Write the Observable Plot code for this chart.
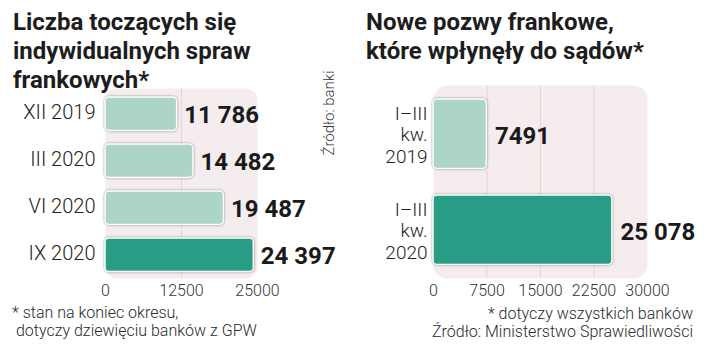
<!DOCTYPE html>
<html>
<head>
<meta charset="utf-8">
<script src="https://cdn.jsdelivr.net/npm/d3@7"></script>
<script src="https://cdn.jsdelivr.net/npm/@observablehq/plot@0.6"></script>
<style>
  html, body { margin: 0; padding: 0; background: #fff; }
  body { width: 720px; height: 359px; position: relative; overflow: hidden; font-family: Roboto, "Liberation Sans", sans-serif; color: #1a1a1a; }
  .panel { position: absolute; top: 0; width: 360px; height: 359px; }
  .title { position: absolute; font-family: Roboto, "Liberation Sans", sans-serif; font-weight: 700; font-size: 24px; line-height: 29px; color: #1d1d1d; }
  .note { position: absolute; font-family: Roboto, "Liberation Sans", sans-serif; font-weight: 300; font-size: 16px; line-height: 18px; color: #2a2a2a; }
  .chart { position: absolute; left: 0; top: 0; }
  .bars rect { filter: drop-shadow(0 0 1px rgba(0,0,0,0.45)); }
  .vsrc { position: absolute; font-family: Roboto, "Liberation Sans", sans-serif; font-weight: 300; font-size: 15px; color: #333; transform: rotate(-90deg); transform-origin: center; white-space: nowrap; }
</style>
</head>
<body>
<div class="panel" id="left">
  <div class="title" style="left:13px; top:8px;">Liczba toczących się<br>indywidualnych spraw<br>frankowych*</div>
  <div class="chart" id="chartL"></div>
  <div class="vsrc" style="left:284px; top:104px; width:90px; text-align:center;">Źródło: banki</div>
  <div class="note" style="left:12px; top:304px;">* stan na koniec okresu,<br>&nbsp;dotyczy dziewięciu banków z GPW</div>
</div>
<div class="panel" id="right" style="left:360px;">
  <div class="title" style="left:6px; top:8px;">Nowe pozwy frankowe,<br>które wpłynęły do sądów*</div>
  <div class="chart" id="chartR"></div>
  <div class="note" style="right:27px; top:305px; text-align:right;">* dotyczy wszystkich banków<br>Źródło: Ministerstwo Sprawiedliwości</div>
</div>
<script>
// Left chart data
const leftCategories = ["XII 2019", "III 2020", "VI 2020", "IX 2020"];
const leftValues = [11786, 14482, 19487, 24397];
const leftTicks = [0, 12500, 25000];

// Right chart data
const rightCategories = ["I–III\nkw.\n2019", "I–III\nkw.\n2020"];
const rightValues = [7491, 25078];
const rightTicks = [0, 7500, 15000, 22500, 30000];

const LIGHT = "#acd5c7";
const DARK = "#299c86";
const BG = "#f5eced";
const GRID = "#e2d6d6";

function fmt(v) {
  if (v < 10000) return String(v);
  return d3.format(",")(v).replace(/,/g, " ");
}

const leftData = leftCategories.map((c, i) => ({cat: c, value: leftValues[i], last: i === leftCategories.length - 1}));
const rightData = rightCategories.map((c, i) => ({cat: c, value: rightValues[i], last: i === rightCategories.length - 1}));

const FONT = "Roboto, 'Liberation Sans', sans-serif";

const left = Plot.plot({
  width: 360,
  height: 300,
  marginLeft: 105,
  marginRight: 103,
  marginTop: 88,
  marginBottom: 22,
  style: {fontFamily: FONT, background: "transparent", overflow: "visible"},
  x: {domain: [0, 25000], ticks: leftTicks, tickSize: 0, tickPadding: 6, label: null, tickFormat: d => String(d)},
  y: {domain: leftCategories, padding: 0, tickSize: 0, tickPadding: 10, label: null},
  marks: [
    Plot.frame({fill: BG, stroke: null, rx: 12}),
    Plot.gridX(leftTicks.slice(1, -1), {stroke: GRID, strokeOpacity: 1, strokeWidth: 1}),
    Plot.barX(leftData, {y: "cat", x: "value", fill: d => d.last ? DARK : LIGHT, stroke: "#fff", strokeWidth: 1.5, rx: 4, insetTop: 8, insetBottom: 5.5, className: "bars"}),
    Plot.text(leftData, {y: "cat", x: "value", text: d => fmt(d.value), textAnchor: "start", dx: 7, dy: 2, fontSize: 24, fontWeight: 700, fill: "#1a1a1a", fontFamily: FONT}),
    Plot.axisX({ticks: leftTicks, tickSize: 0, tickPadding: 6, fontSize: 16, fontWeight: 300, fill: "#333", label: null, tickFormat: d => String(d)}),
    Plot.axisY({tickSize: 0, tickPadding: 10, fontSize: 20, fontWeight: 300, fill: "#222", label: null})
  ]
});
document.getElementById("chartL").appendChild(left);

const right = Plot.plot({
  width: 360,
  height: 300,
  marginLeft: 73,
  marginRight: 73,
  marginTop: 85,
  marginBottom: 22,
  style: {fontFamily: FONT, background: "transparent", overflow: "visible"},
  x: {domain: [0, 30000], ticks: rightTicks, tickSize: 0, tickPadding: 6, label: null, tickFormat: d => String(d)},
  y: {domain: rightCategories, padding: 0, tickSize: 0, tickPadding: 6, label: null},
  marks: [
    Plot.frame({fill: BG, stroke: null, rx: 14}),
    Plot.gridX(rightTicks.slice(1, -1), {stroke: GRID, strokeOpacity: 1, strokeWidth: 1}),
    Plot.barX(rightData, {y: "cat", x: "value", fill: d => d.last ? DARK : LIGHT, stroke: "#fff", strokeWidth: 1.5, rx: 4, insetTop: 13, insetBottom: 13.5, className: "bars"}),
    Plot.text(rightData, {y: "cat", x: "value", text: d => fmt(d.value), textAnchor: "start", dx: 8, dy: 2, fontSize: 24, fontWeight: 700, fill: "#1a1a1a", fontFamily: FONT}),
    Plot.axisX({ticks: rightTicks, tickSize: 0, tickPadding: 6, fontSize: 16, fontWeight: 300, fill: "#333", label: null, tickFormat: d => String(d)}),
    Plot.axisY({tickSize: 0, tickPadding: 6, fontSize: 19, fontWeight: 300, fill: "#222", label: null, lineHeight: 1.12})
  ]
});
document.getElementById("chartR").appendChild(right);
</script>
</body>
</html>
